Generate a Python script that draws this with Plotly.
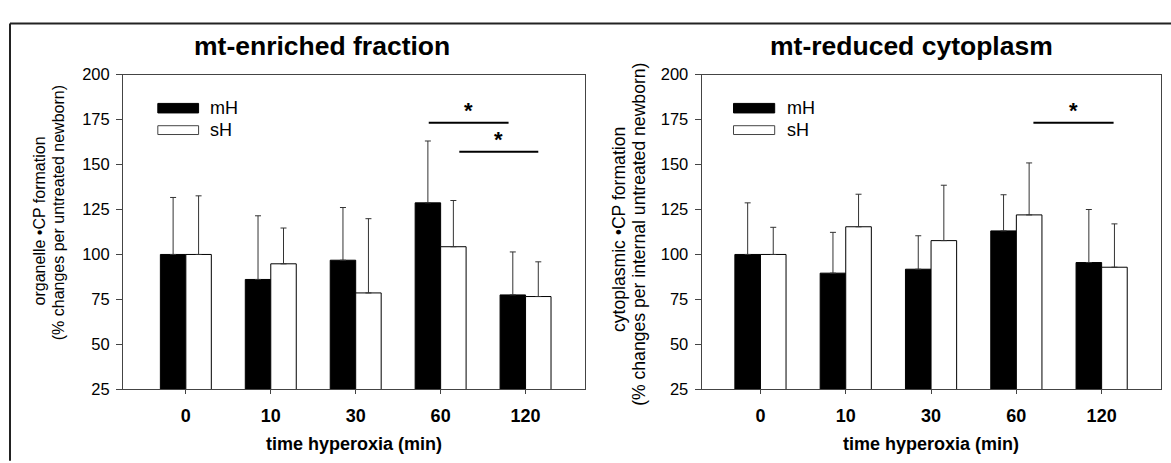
import plotly.graph_objects as go

W, H = 1171, 463
FONT = "Liberation Sans, Arial, sans-serif"

# time points (min) and the two hyperoxia groups
times = ["0", "10", "30", "60", "120"]
groups = ["mH", "sH"]

# mt-enriched fraction: mean and upper SD end (% of untreated newborn)
enriched_mH = [100.0, 86.1, 96.8, 128.7, 77.5]
enriched_mH_top = [131.7, 121.5, 126.1, 163.1, 101.4]
enriched_sH = [100.0, 94.8, 78.6, 104.3, 76.6]
enriched_sH_top = [132.6, 114.7, 119.9, 130.0, 95.9]

# mt-reduced cytoplasm: mean and upper SD end (% of internal untreated newborn)
reduced_mH = [100.0, 89.6, 91.8, 113.1, 95.5]
reduced_mH_top = [128.7, 112.3, 110.4, 133.2, 125.0]
reduced_sH = [100.0, 115.4, 107.7, 122.0, 92.9]
reduced_sH_top = [115.1, 133.5, 138.5, 150.9, 117.0]

# significance brackets: (x start, x end, y level) in axis units
enriched_sig = [(2.86, 3.80, 173.2), (3.22, 4.15, 157.1)]
reduced_sig = [(3.20, 4.14, 173.2)]

y_ticks = [25, 50, 75, 100, 125, 150, 175, 200]

BAR_W = 0.3


def px(x):
    return x / W


def py(y):
    return 1 - y / H


fig = go.Figure()

panels = [
    dict(xa="x", ya="y", mH=enriched_mH, mH_top=enriched_mH_top,
         sH=enriched_sH, sH_top=enriched_sH_top),
    dict(xa="x2", ya="y2", mH=reduced_mH, mH_top=reduced_mH_top,
         sH=reduced_sH, sH_top=reduced_sH_top),
]

pos = list(range(len(times)))
for p in panels:
    for name, vals, tops, fill, off in [
        ("mH", p["mH"], p["mH_top"], "black", -BAR_W),
        ("sH", p["sH"], p["sH_top"], "white", 0.0),
    ]:
        fig.add_trace(go.Bar(
            x=pos, y=vals, width=BAR_W, offset=off, name=name,
            xaxis=p["xa"], yaxis=p["ya"], showlegend=False,
            marker=dict(color=fill, line=dict(color="black", width=1)),
            error_y=dict(type="data", symmetric=False,
                         array=[t - v for t, v in zip(tops, vals)],
                         arrayminus=[0] * len(vals),
                         color="#333333", thickness=1, width=3),
        ))

y_dom = [py(395.7), py(68.3)]
axis_common = dict(showline=True, mirror=True, linecolor="#444444", linewidth=1,
                   showgrid=False, zeroline=False, ticks="outside",
                   tickcolor="#444444")

fig.update_layout(
    width=W, height=H, autosize=False,
    margin=dict(l=0, r=0, t=0, b=0),
    paper_bgcolor="white", plot_bgcolor="white",
    barmode="overlay",
    font=dict(family=FONT, color="black"),
    xaxis=dict(domain=[px(123), px(585)], range=[-0.74, 4.70],
               tickvals=pos, ticktext=times, ticklen=4,
               tickfont=dict(size=18, family=FONT, weight="bold"),
               ticklabelstandoff=6, anchor="y", **axis_common),
    yaxis=dict(domain=y_dom, range=[25, 200], tickvals=y_ticks, ticklen=6,
               tickfont=dict(size=16.5, family=FONT), ticklabelstandoff=3,
               anchor="x", **axis_common),
    xaxis2=dict(domain=[px(701.6), px(1160.5)], range=[-0.69, 4.69],
                tickvals=pos, ticktext=times, ticklen=4,
                tickfont=dict(size=18, family=FONT, weight="bold"),
                ticklabelstandoff=6, anchor="y2", **axis_common),
    yaxis2=dict(domain=y_dom, range=[25, 200], tickvals=y_ticks, ticklen=6,
                tickfont=dict(size=16.5, family=FONT), ticklabelstandoff=3,
                anchor="x2", **axis_common),
)

shapes = []
annotations = []

# outer frame (top and left edges fall inside the page)
shapes.append(dict(type="line", xref="paper", yref="paper",
                   x0=px(10), x1=px(1175), y0=py(15), y1=py(15),
                   line=dict(color="#222222", width=2)))
shapes.append(dict(type="line", xref="paper", yref="paper",
                   x0=px(10), x1=px(10), y0=py(15), y1=py(470),
                   line=dict(color="#222222", width=2)))

titles = [("mt-enriched fraction", 322), ("mt-reduced cytoplasm", 911.5)]
for text, cx in titles:
    annotations.append(dict(text=f"<b>{text}</b>", xref="paper", yref="paper",
                            x=px(cx), y=py(38), xanchor="center", yanchor="middle",
                            showarrow=False, font=dict(size=26.5, family=FONT)))

# x-axis titles
for cx in [354, 931]:
    annotations.append(dict(text="<b>time hyperoxia (min)</b>", xref="paper",
                            yref="paper", x=px(cx), y=py(453), xanchor="center",
                            yanchor="middle", showarrow=False,
                            font=dict(size=18, family=FONT)))

# y-axis titles, one annotation per line: (text, x centre, y centre, size)
y_title_lines = [
    ("organelle •CP formation", 39, 221, 16),
    ("(% changes per untreated newborn)", 58, 212.5, 16),
    ("cytoplasmic •CP formation", 619, 230, 17.6),
    ("(% changes per internal untreated newborn)", 639, 235, 17.6),
]
for text, cx, cy, size in y_title_lines:
    annotations.append(dict(text=text, xref="paper", yref="paper",
                            x=px(cx), y=py(cy), xanchor="center",
                            yanchor="middle", textangle=-90, showarrow=False,
                            font=dict(size=size, family=FONT)))

# legends drawn inside each panel
for xa, ya, x0, x1, tx in [("x", "y", -0.33, 0.15, 0.265),
                           ("x2", "y2", -0.316, 0.167, 0.285)]:
    shapes.append(dict(type="rect", xref=xa, yref=ya, x0=x0, x1=x1,
                       y0=178.7, y1=184.0, fillcolor="black",
                       line=dict(color="black", width=1)))
    shapes.append(dict(type="rect", xref=xa, yref=ya, x0=x0, x1=x1,
                       y0=166.7, y1=171.6, fillcolor="white",
                       line=dict(color="#444444", width=1)))
    for label, ly in [("mH", 181.4), ("sH", 169.2)]:
        annotations.append(dict(text=label, xref=xa, yref=ya, x=tx, y=ly,
                                xanchor="left", yanchor="middle", showarrow=False,
                                font=dict(size=18, family=FONT)))

# significance brackets with asterisks
for xa, ya, sigs in [("x", "y", enriched_sig), ("x2", "y2", reduced_sig)]:
    for x0, x1, yl in sigs:
        shapes.append(dict(type="line", xref=xa, yref=ya, x0=x0, x1=x1,
                           y0=yl, y1=yl, line=dict(color="black", width=2)))
        annotations.append(dict(text="<b>*</b>", xref=xa, yref=ya,
                                x=(x0 + x1) / 2, y=yl + 7, xanchor="center",
                                yanchor="middle", showarrow=False,
                                font=dict(size=22, family=FONT)))

fig.update_layout(shapes=shapes, annotations=annotations)

fig.write_html("out.html")
